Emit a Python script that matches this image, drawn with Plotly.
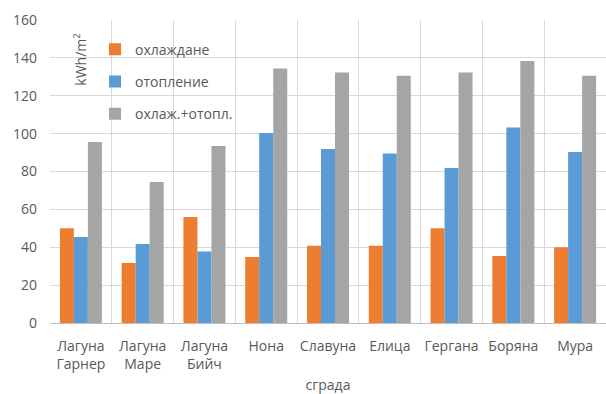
import plotly.graph_objects as go

# Buildings (x categories)
buildings = ["Лагуна<br>Гарнер", "Лагуна<br>Маре", "Лагуна<br>Бийч", "Нона", "Славуна",
             "Елица", "Гергана", "Боряна", "Мура"]

# Specific energy demand, kWh/m2
cooling = [50.0, 31.7, 56.0, 34.8, 40.8, 40.8, 50.0, 35.4, 40.0]
heating = [45.4, 41.7, 37.8, 100.3, 91.9, 89.5, 81.8, 103.3, 90.3]
total = [95.6, 74.4, 93.4, 134.4, 132.3, 130.6, 132.3, 138.3, 130.6]

series = [
    ("охлаждане", cooling, "#ED7D31"),
    ("отопление", heating, "#5B9BD5"),
    ("охлаж.+отопл.", total, "#A5A5A5"),
]

FONT = "Open Sans"
TXT = "#595959"
GRID = "#D9D9D9"

fig = go.Figure()
for i, (name, vals, color) in enumerate(series):
    fig.add_trace(go.Bar(
        x=buildings, y=vals, name=name,
        marker=dict(color=color, line=dict(width=0)),
        legendgroup=f"g{i}",
    ))

fig.update_layout(
    width=606, height=394,
    margin=dict(l=50, r=0, t=20, b=71),
    paper_bgcolor="white", plot_bgcolor="white",
    font=dict(family=FONT, size=14, color=TXT),
    barmode="group", bargap=0.32, bargroupgap=0,
    showlegend=True,
    legend=dict(
        x=0.081, y=0.955, xanchor="left", yanchor="top",
        bgcolor="rgba(0,0,0,0)", font=dict(family=FONT, size=14, color=TXT),
        tracegroupgap=11, itemwidth=30,
    ),
    xaxis=dict(
        showgrid=True, gridcolor=GRID, gridwidth=1, tickson="boundaries",
        showline=True, linecolor="#BFBFBF", linewidth=1,
        ticks="", ticklabelstandoff=10, tickangle=0, automargin=False,
        tickfont=dict(family=FONT, size=14, color=TXT),
        title=dict(text="сграда", standoff=12, font=dict(family=FONT, size=14, color=TXT)),
    ),
    yaxis=dict(
        range=[0, 160], dtick=20, showgrid=True, gridcolor=GRID, gridwidth=1,
        zeroline=False, ticks="", ticklabelstandoff=12, automargin=False,
        tickfont=dict(family=FONT, size=14, color=TXT),
    ),
    annotations=[dict(
        text="kWh/m<sup>2</sup>", textangle=-90, showarrow=False,
        xref="paper", yref="paper", x=0.055, y=0.965, xanchor="center", yanchor="top",
        font=dict(family=FONT, size=14, color=TXT),
    )],
)

fig.write_html("out.html")
